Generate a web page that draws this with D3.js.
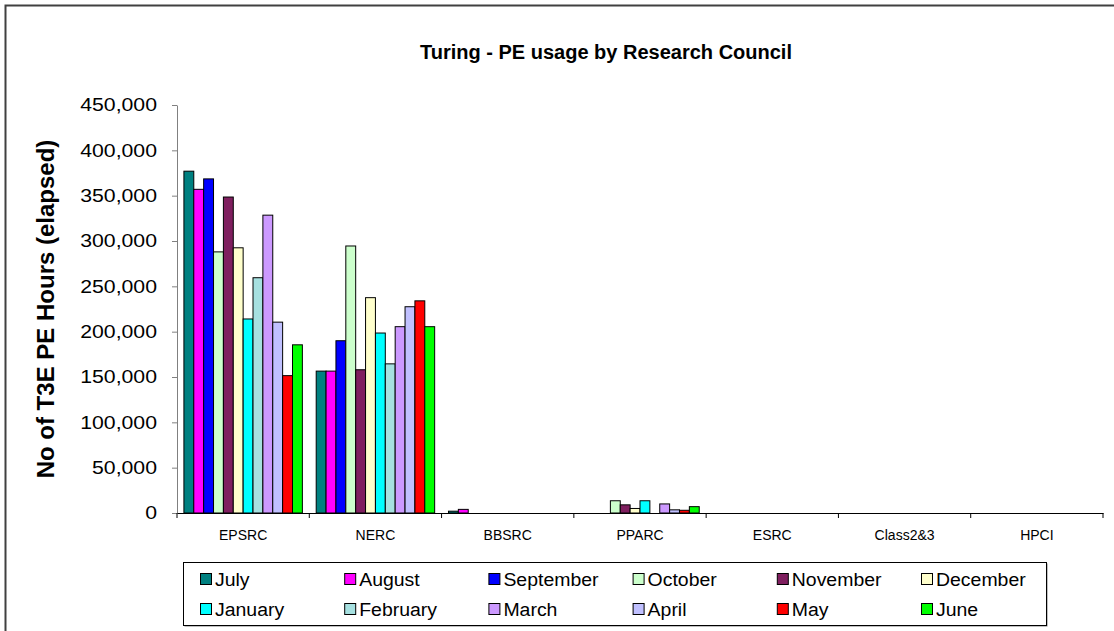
<!DOCTYPE html>
<html>
<head>
<meta charset="utf-8">
<script src="https://cdn.jsdelivr.net/npm/d3@7"></script>
<style>
body{margin:0;background:#fff;}
svg text{font-family:"Liberation Sans",Arial,sans-serif;fill:#000;}
</style>
</head>
<body>
<div id="chart"></div>
<script>
var width=1114,
    height=631;

// data
var councils=["EPSRC","NERC","BBSRC","PPARC","ESRC","Class2&3","HPCI"];
var months=["July","August","September","October","November","December",
            "January","February","March","April","May","June"];
var colours=["#008080","#FF00FF","#0000FF","#CCFFCC","#7F1F5F","#FFFFCC",
             "#00FFFF","#A6E0E0","#CC99FF","#C0C0FF","#FF0000","#00FF00"];
var yTicks=[0,50000,100000,150000,200000,250000,300000,350000,400000,450000];

// PE hours per month (July..June) for each council
var epsrc=[377000,357000,368500,288000,348500,292500,214000,259500,328500,210500,151500,185500];
var nerc=[156500,156500,190000,294500,158000,237500,198500,164500,205500,227500,234000,205500];
var bbsrc=[2000,4000,0,0,0,0,0,0,0,0,0,0];
var pparc=[0,0,0,13500,9000,5000,13500,0,10000,3500,3000,7000];
var esrc=[0,0,0,0,0,0,0,0,0,0,0,0];
var class23=[0,0,0,0,0,0,0,0,0,0,0,0];
var hpci=[0,0,0,0,0,0,0,0,0,0,0,0];

var series=[epsrc,nerc,bbsrc,pparc,esrc,class23,hpci];

var plot={left:177,right:1103,top:105,bottom:513};

var svg=d3.select("#chart")
  .append("svg")
  .attr("width",width)
  .attr("height",height);

// stretch a text horizontally to k times its natural width
function widen(sel,k){
  sel.each(function(){
    var w=this.getComputedTextLength();
    d3.select(this).attr("textLength",w*k).attr("lengthAdjust","spacingAndGlyphs");
  });
}

// outer chart frame (runs off the bottom/right of the picture)
svg.append("rect")
  .attr("x",5.5).attr("y",5.5)
  .attr("width",1150).attr("height",700)
  .attr("fill","none")
  .attr("stroke","#404040")
  .attr("stroke-width",2);

svg.append("text")
  .attr("x",606).attr("y",59)
  .attr("text-anchor","middle")
  .style("font-size","20px")
  .style("font-weight","bold")
  .text("Turing - PE usage by Research Council");

var x0=d3.scaleBand()
  .domain(councils)
  .range([plot.left,plot.right]);

var x1=d3.scaleBand()
  .domain(months)
  .range([0,x0.bandwidth()])
  .paddingInner(0)
  .paddingOuter(0.7);

var y=d3.scaleLinear()
  .domain([0,450000])
  .range([plot.bottom,plot.top]);

// y axis
var yAxis=d3.axisLeft(y)
  .tickValues(yTicks)
  .tickSize(5)
  .tickSizeOuter(0)
  .tickPadding(15)
  .tickFormat(d3.format(","));

var gy=svg.append("g")
  .attr("transform","translate("+plot.left+",0)")
  .call(yAxis);
gy.select(".domain").attr("stroke","#808080");
gy.selectAll(".tick line").attr("stroke","#808080");
gy.selectAll(".tick text")
  .style("font-size","18px")
  .style("font-family","'Liberation Sans',Arial,sans-serif")
  .attr("fill","#000")
  .call(widen,1.18);

svg.append("text")
  .attr("transform","translate(54,309) rotate(-90)")
  .attr("text-anchor","middle")
  .style("font-size","24px")
  .style("font-weight","bold")
  .text("No of T3E PE Hours (elapsed)");

// bars
var groups=svg.selectAll("g.council")
  .data(councils)
  .enter()
  .append("g")
  .attr("class","council")
  .attr("transform",function(d){return "translate("+x0(d)+",0)";});

groups.selectAll("rect")
  .data(function(d,i){
    return months.map(function(m,j){return {month:m,value:series[i][j],colour:colours[j]};})
      .filter(function(e){return e.value>0;});
  })
  .enter()
  .append("rect")
  .attr("x",function(d){return x1(d.month);})
  .attr("y",function(d){return y(d.value);})
  .attr("width",x1.bandwidth())
  .attr("height",function(d){return y(0)-y(d.value);})
  .attr("fill",function(d){return d.colour;})
  .attr("stroke","#000")
  .attr("stroke-width",1);

// x axis: line, ticks between categories, labels
var xAxis=d3.axisBottom(x0).tickSize(0).tickSizeOuter(0).tickPadding(17);
var gx=svg.append("g")
  .attr("transform","translate(0,"+plot.bottom+")")
  .call(xAxis);
gx.select(".domain").attr("stroke","#000");
gx.selectAll(".tick text")
  .style("font-size","14px")
  .style("font-family","'Liberation Sans',Arial,sans-serif")
  .attr("fill","#000");

gx.selectAll("line.sep")
  .data(councils.map(function(c){return x0(c);}).concat([plot.right]))
  .enter()
  .append("line")
  .attr("class","sep")
  .attr("x1",function(d){return d;})
  .attr("x2",function(d){return d;})
  .attr("y1",0).attr("y2",5)
  .attr("stroke","#000");

// legend
var legend={x:183,y:562,w:863,h:63,colStep:144.2,rowStep:30};
svg.append("rect")
  .attr("x",legend.x+1.5).attr("y",legend.y+1.5)
  .attr("width",legend.w).attr("height",legend.h)
  .attr("fill","#808080");
svg.append("rect")
  .attr("x",legend.x+0.5).attr("y",legend.y+0.5)
  .attr("width",legend.w).attr("height",legend.h)
  .attr("fill","#fff")
  .attr("stroke","#000");

var items=svg.selectAll("g.item")
  .data(months)
  .enter()
  .append("g")
  .attr("class","item")
  .attr("transform",function(d,i){
    return "translate("+(legend.x+17+(i%6)*legend.colStep)+","+(legend.y+11+Math.floor(i/6)*legend.rowStep)+")";
  });
items.append("rect")
  .attr("x",0.5).attr("y",0.5)
  .attr("width",11).attr("height",11)
  .attr("fill",function(d,i){return colours[i];})
  .attr("stroke","#000");
items.append("text")
  .attr("x",15).attr("y",13)
  .style("font-size","18px")
  .text(function(d){return d;})
  .call(widen,1.08);
</script>
</body>
</html>
